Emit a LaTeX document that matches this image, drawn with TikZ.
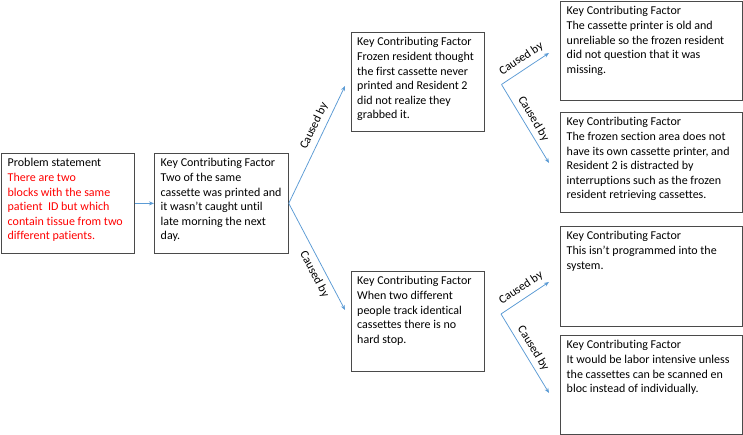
\documentclass[tikz,border=0pt]{standalone}
\usepackage{fontspec}
\setmainfont{Carlito}[Ligatures=NoCommon]
\usetikzlibrary{arrows.meta}
\definecolor{linkblue}{HTML}{5B9BD5}
\definecolor{boxline}{HTML}{4A4A4A}
\definecolor{probred}{HTML}{FF0000}
\begin{document}
\begin{tikzpicture}[x=1pt,y=-1pt,
  kbox/.style={draw=boxline, line width=0.75pt, rectangle, inner sep=0pt, anchor=north west},
  ktext/.style={anchor=north west, inner sep=0pt, align=left, font=\fontsize{12}{14.6}\selectfont, text=black},
  link/.style={draw=linkblue, line width=0.75pt, -{Stealth[length=5pt,width=4pt]}},
  cause/.style={font=\fontsize{12}{14}\selectfont, sloped, inner sep=1pt, text=black}]
\useasboundingbox (0,0) rectangle (743,435);
\fill[white] (0,0) rectangle (743,435);

% boxes
\node[kbox, minimum width=133pt, minimum height=100pt] (b1) at (1,153) {};
\node[kbox, minimum width=134pt, minimum height=100pt] (b2) at (154,153) {};
\node[kbox, minimum width=133pt, minimum height=99pt] (b3) at (351,32) {};
\node[kbox, minimum width=133pt, minimum height=100pt] (b4) at (351,271) {};
\node[kbox, minimum width=182pt, minimum height=99pt] (b5) at (560,1) {};
\node[kbox, minimum width=182pt, minimum height=100pt] (b6) at (560,112) {};
\node[kbox, minimum width=182pt, minimum height=100pt] (b7) at (560,226) {};
\node[kbox, minimum width=182pt, minimum height=99pt] (b8) at (560,335) {};

% texts
\node[ktext] (t1) at (7.5,156.5) {\strut Problem statement\\
  \textcolor{probred}{There are two}\\
  \textcolor{probred}{blocks with the same}\\
  \textcolor{probred}{patient\ \ ID but which}\\
  \textcolor{probred}{contain tissue from two}\\
  \textcolor{probred}{different patients.}};
\node[ktext] (t2) at (160.5,156.5) {\strut Key Contributing Factor\\
  Two of the same\\
  cassette was printed and\\
  it wasn't caught until\\
  late morning the next\\
  day.};
\node[ktext] (t3) at (357,35.5) {\strut Key Contributing Factor\\
  Frozen resident thought\\
  the first cassette never\\
  printed and Resident 2\\
  did not realize they\\
  grabbed it.};
\node[ktext] (t4) at (357,274.5) {\strut Key Contributing Factor\\
  When two different\\
  people track identical\\
  cassettes there is no\\
  hard stop.};
\node[ktext] (t5) at (566.5,4.5) {\strut Key Contributing Factor\\
  The cassette printer is old and\\
  unreliable so the frozen resident\\
  did not question that it was\\
  missing.};
\node[ktext] (t6) at (566.5,115.5) {\strut Key Contributing Factor\\
  The frozen section area does not\\
  have its own cassette printer, and\\
  Resident 2 is distracted by\\
  interruptions such as the frozen\\
  resident retrieving cassettes.};
\node[ktext] (t7) at (566.5,229.5) {\strut Key Contributing Factor\\
  This isn't programmed into the\\
  system.};
\node[ktext] (t8) at (566.5,338.5) {\strut Key Contributing Factor\\
  It would be labor intensive unless\\
  the cassettes can be scanned en\\
  bloc instead of individually.};

% connector points
\coordinate (tb3) at (345,86);
\coordinate (tb4) at (345,310);
\coordinate (v3) at (501.5,84.5);
\coordinate (tb5) at (549,53);
\coordinate (tb6) at (549,163);
\coordinate (v4) at (501,314);
\coordinate (tb7) at (549,282);
\coordinate (tb8) at (549,393);

% connectors
\draw[link] (b1.east) -- (b2.west);
\draw[link] (b2.east) -- node[cause, above=4pt, pos=0.62] (c1) {Caused by} (tb3);
\draw[link] (b2.east) -- node[cause, below=4pt, pos=0.62] (c2) {Caused by} (tb4);
\draw[link] (v3) -- node[cause, above=4pt, pos=0.54] (c3) {Caused by} (tb5);
\draw[link] (v3) -- node[cause, above=3pt, pos=0.5] (c4) {Caused by} (tb6);
\draw[link] (v4) -- node[cause, above=4pt, pos=0.54] (c5) {Caused by} (tb7);
\draw[link] (v4) -- node[cause, above=3pt, pos=0.5] (c6) {Caused by} (tb8);
\end{tikzpicture}
\end{document}
